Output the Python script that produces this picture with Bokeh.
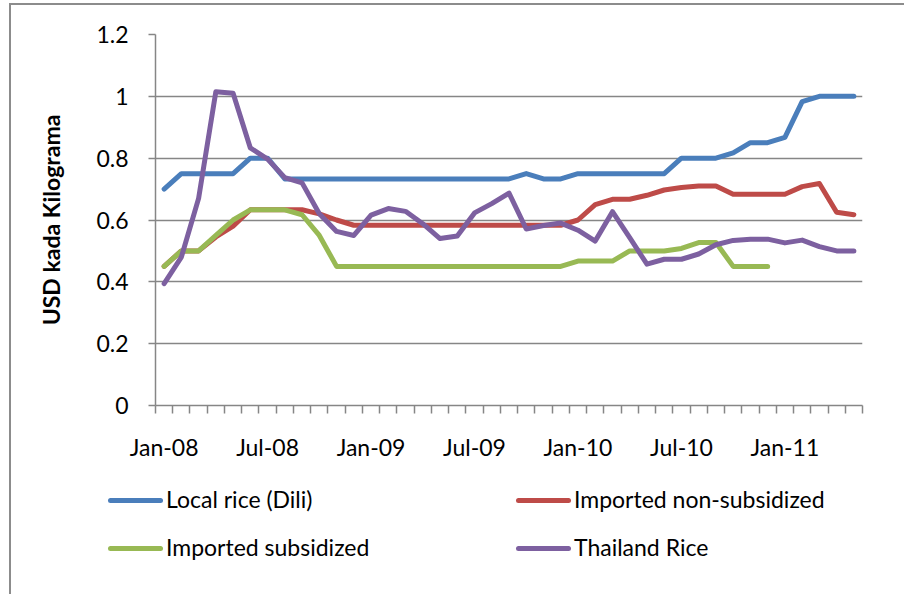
from bokeh.plotting import figure
from bokeh.models import FixedTicker, Range1d, Div
from bokeh.layouts import column
from bokeh.embed import file_html
from bokeh.resources import INLINE

months = ["Jan-08", "Feb-08", "Mar-08", "Apr-08", "May-08", "Jun-08", "Jul-08", "Aug-08", "Sep-08", "Oct-08", "Nov-08", "Dec-08",
          "Jan-09", "Feb-09", "Mar-09", "Apr-09", "May-09", "Jun-09", "Jul-09", "Aug-09", "Sep-09", "Oct-09", "Nov-09", "Dec-09",
          "Jan-10", "Feb-10", "Mar-10", "Apr-10", "May-10", "Jun-10", "Jul-10", "Aug-10", "Sep-10", "Oct-10", "Nov-10", "Dec-10",
          "Jan-11", "Feb-11", "Mar-11", "Apr-11", "May-11"]

local_rice = [0.70, 0.75, 0.75, 0.75, 0.75, 0.80, 0.80,
              0.733, 0.733, 0.733, 0.733, 0.733, 0.733, 0.733, 0.733, 0.733, 0.733, 0.733, 0.733, 0.733, 0.733,
              0.75, 0.733, 0.733,
              0.75, 0.75, 0.75, 0.75, 0.75, 0.75,
              0.80, 0.80, 0.80, 0.817, 0.85, 0.85, 0.867, 0.983, 1.0, 1.0, 1.0]

imported_nonsub = [0.45, 0.50, 0.50, 0.545, 0.58, 0.633, 0.633, 0.633, 0.633, 0.62, 0.60,
                   0.583, 0.583, 0.583, 0.583, 0.583, 0.583, 0.583, 0.583, 0.583, 0.583, 0.583, 0.583, 0.583,
                   0.60, 0.65, 0.667, 0.667, 0.68, 0.697, 0.705, 0.71, 0.71, 0.683, 0.683, 0.683, 0.683,
                   0.708, 0.718, 0.625, 0.617]

imported_sub = [0.45, 0.50, 0.50, 0.55, 0.60, 0.633, 0.633, 0.633, 0.617, 0.55,
                0.45, 0.45, 0.45, 0.45, 0.45, 0.45, 0.45, 0.45, 0.45, 0.45, 0.45, 0.45, 0.45, 0.45,
                0.467, 0.467, 0.467, 0.50, 0.50, 0.50, 0.508, 0.527, 0.527, 0.45, 0.45, 0.45]

thailand_rice = [0.394, 0.48, 0.67, 1.015, 1.01, 0.833, 0.797, 0.737, 0.72, 0.62,
                 0.563, 0.55, 0.616, 0.637, 0.628, 0.588, 0.54, 0.548, 0.623, 0.653,
                 0.687, 0.571, 0.582, 0.59, 0.567, 0.532, 0.627, 0.543, 0.457, 0.473,
                 0.473, 0.49, 0.52, 0.534, 0.538, 0.538, 0.526, 0.535, 0.514, 0.50, 0.50]

series_names = ["Local rice (Dili)", "Imported non-subsidized", "Imported subsidized", "Thailand Rice"]
series_colors = ["#4A7EBB", "#BE4B48", "#98B954", "#7D60A0"]

y_ticks = [0, 0.2, 0.4, 0.6, 0.8, 1.0, 1.2]
y_tick_labels = ["0", "0.2", "0.4", "0.6", "0.8", "1", "1.2"]
y_title = "USD kada Kilograma"

FONT = "Lato"
FS = "23px"
GRAY = "#868686"
FRAME = "2px solid #8c8c8c"

series_values = [local_rice, imported_nonsub, imported_sub, thailand_rice]
x_all = list(range(len(months)))
label_idx = [i for i, m in enumerate(months) if m.startswith("Jan") or m.startswith("Jul")]

# ---- main chart ----
p = figure(width=890, height=465,
           x_range=Range1d(-0.5, len(months) - 0.5), y_range=Range1d(0, 1.2),
           output_backend="svg", toolbar_location=None,
           min_border_left=144, min_border_right=39, min_border_top=29, min_border_bottom=65)
p.outline_line_color = None
p.background_fill_color = "white"
p.border_fill_color = "white"

for vals, col in zip(series_values, series_colors):
    p.line(x_all[:len(vals)], vals, line_color=col, line_width=5,
           line_join="round", line_cap="round")

# x axis
p.xaxis.ticker = FixedTicker(ticks=label_idx, minor_ticks=[i - 0.5 for i in range(len(months) + 1)])
p.xaxis.major_label_overrides = {i: months[i] for i in label_idx}
p.xaxis.major_tick_out = 0
p.xaxis.major_tick_in = 0
p.xaxis.minor_tick_out = 8
p.xaxis.minor_tick_in = 0
p.xaxis.minor_tick_line_color = GRAY
p.xaxis.minor_tick_line_width = 1.5
p.xaxis.major_label_standoff = 19
p.xgrid.visible = False

# y axis
p.yaxis.ticker = FixedTicker(ticks=y_ticks, minor_ticks=[])
p.yaxis.major_label_overrides = dict(zip(y_ticks, y_tick_labels))
p.yaxis.major_tick_out = 7
p.yaxis.major_tick_in = 0
p.yaxis.major_tick_line_color = GRAY
p.yaxis.major_tick_line_width = 1.5
p.yaxis.minor_tick_line_color = None
p.yaxis.major_label_standoff = 20
p.yaxis.axis_label = y_title
p.yaxis.axis_label_text_font = FONT
p.yaxis.axis_label_text_font_size = FS
p.yaxis.axis_label_text_font_style = "bold"
p.yaxis.axis_label_text_color = "black"
p.yaxis.axis_label_standoff = 28
p.ygrid.ticker = FixedTicker(ticks=y_ticks, minor_ticks=[])
p.ygrid.grid_line_color = GRAY
p.ygrid.grid_line_width = 1.5

for ax in (p.xaxis, p.yaxis):
    ax.axis_line_color = GRAY
    ax.axis_line_width = 1.5
    ax.major_label_text_font = FONT
    ax.major_label_text_font_size = FS
    ax.major_label_text_color = "black"

# ---- legend strip below the chart: 2 x 2 grid of swatch + label ----
LEG_ROW_Y = [25, 73]          # vertical centre of each legend row
LEG_COL_X = [92, 500]         # left end of the swatch in each column
parts = []
for k, (name, col) in enumerate(zip(series_names, series_colors)):
    cy = LEG_ROW_Y[k // 2]
    x0 = LEG_COL_X[k % 2]
    parts.append(
        f'<div style="position:absolute;left:{x0}px;top:{cy - 2.5}px;width:55px;height:5px;'
        f'border-radius:2.5px;background:{col};"></div>'
        f'<div style="position:absolute;left:{x0 + 58}px;top:{cy - 15}px;height:28px;line-height:28px;'
        f'white-space:nowrap;">{name}</div>')
legend_html = (f'<div style="position:relative;width:890px;height:118px;font-family:{FONT};'
               f'font-size:{FS};color:black;">' + "".join(parts) + '</div>')
legend_div = Div(text=legend_html, width=890, height=118)

layout = column(p, legend_div, spacing=0)
layout.styles = {"margin-left": "9px", "margin-top": "3px",
                 "border-left": FRAME, "border-top": FRAME}

open("out.html", "w").write(file_html(layout, INLINE))
